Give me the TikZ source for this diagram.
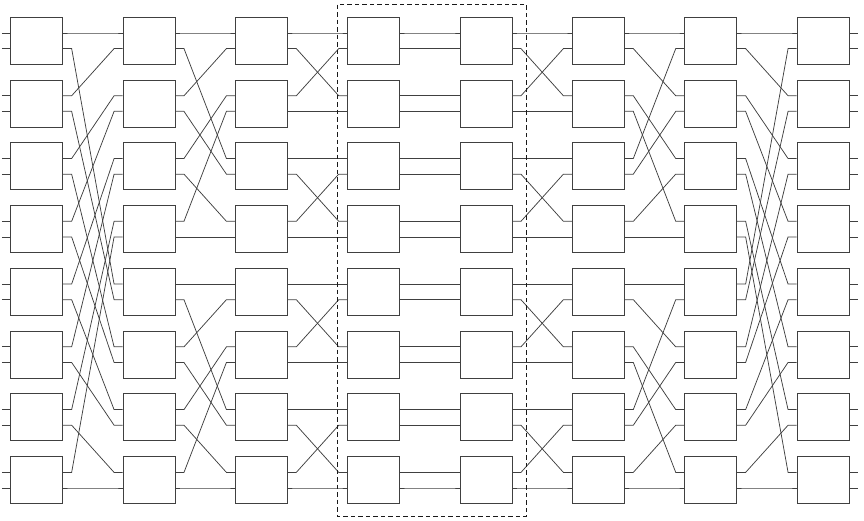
\documentclass[tikz,border=0pt]{standalone}
\usetikzlibrary{calc}

\begin{document}
\begin{tikzpicture}[
    x=1pt, y=-1pt, % pixel-like grid, y grows downwards
    switch/.style={draw, black!75, line width=0.9pt, minimum width=52pt, minimum height=47pt, inner sep=0pt}, % 2x2 switch
    wire/.style={black!75, line width=0.75pt} % link between switches
]

    % --- Definitions ---
    \def\colsep{112.33} % distance between stages
    \def\rowsep{62.77}  % distance between switches of a stage
    \def\portoff{7.8}   % port offset from switch centre
    \def\stub{8.5}      % length of the short port stubs

    \useasboundingbox (0,0) rectangle (864,521);

    % --- Switches and their ports ---
    \foreach \c in {0,...,7} {
        \foreach \r in {0,...,7} {
            \node[switch] (sw\c-\r) at ({36.7+\colsep*\c}, {40.8+\rowsep*\r}) {};
            \foreach \p/\dy in {0/-\portoff, 1/\portoff} {
                \pgfmathtruncatemacro\n{2*\r+\p}
                \path (sw\c-\r.east) ++(0,\dy) coordinate (out\c-\n) ++(\stub,0) coordinate (outs\c-\n);
                \path (sw\c-\r.west) ++(0,\dy) coordinate (in\c-\n) ++(-\stub,0) coordinate (ins\c-\n);
            }
        }
    }

    % --- Links between stages ---
    % stage/block size/type (0 = unshuffle, 1 = shuffle)
    \foreach \c/\m/\t in {0/16/0, 1/8/0, 2/4/0, 3/1/0, 4/4/1, 5/8/1, 6/16/1} {
        \pgfmathtruncatemacro\d{\c+1}
        \pgfmathtruncatemacro\h{\m/2}
        \foreach \i in {0,...,15} {
            \pgfmathtruncatemacro\base{\m*floor(\i/\m)}
            \pgfmathtruncatemacro\k{\i-\base}
            \ifnum\t=0
                \pgfmathtruncatemacro\j{\base+floor(\k/2)+\h*mod(\k,2)}
            \else
                \pgfmathtruncatemacro\j{\base+2*mod(\k,\h)+floor(\k/\h)}
            \fi
            \draw[wire] (out\c-\i) -- (outs\c-\i) -- (ins\d-\j) -- (in\d-\j);
        }
    }

    % --- Free inputs and outputs ---
    \foreach \i in {0,...,15} {
        \draw[wire] (ins0-\i) -- (in0-\i);
        \draw[wire] (out7-\i) -- (outs7-\i);
    }

    % --- Middle stages ---
    \draw[black!90, line width=1pt, dash pattern=on 4.5pt off 3pt]
        ($(sw3-0.north west)+(-9.4,-12.3)$) rectangle ($(sw4-7.south east)+(14,12.4)$);

\end{tikzpicture}
\end{document}
